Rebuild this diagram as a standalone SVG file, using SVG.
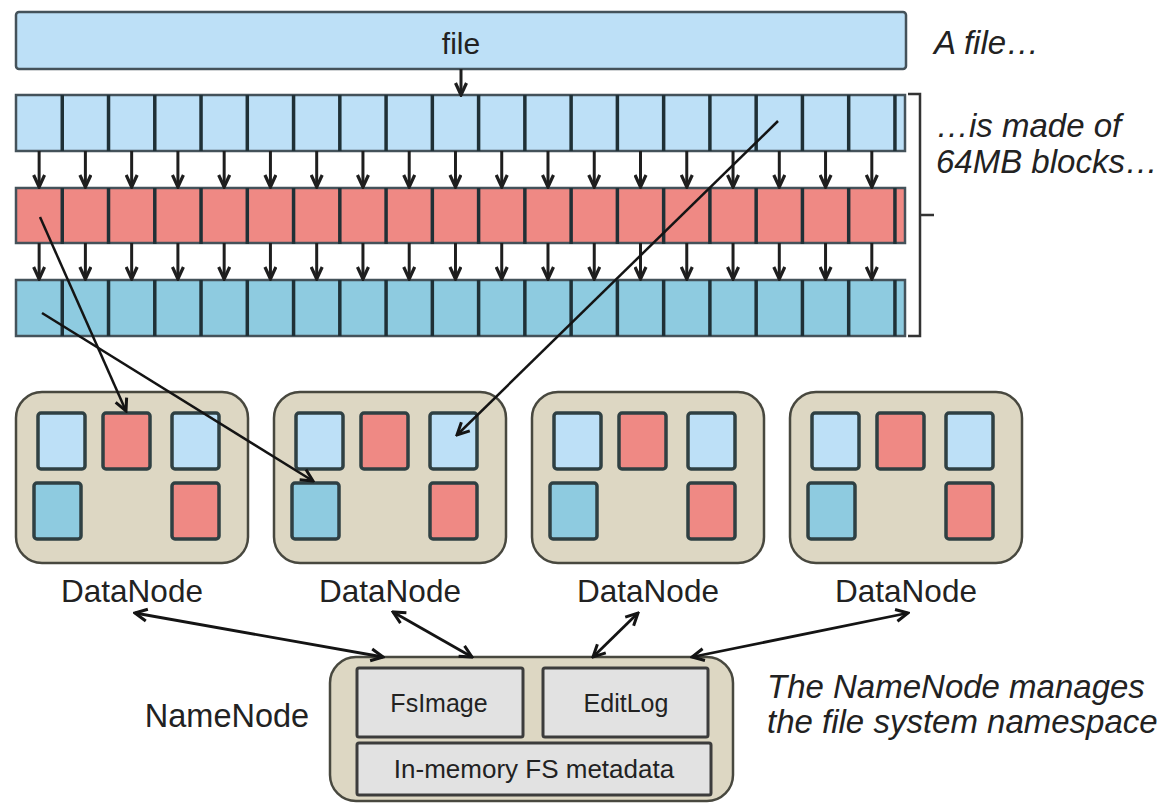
<svg xmlns="http://www.w3.org/2000/svg" xmlns:xlink="http://www.w3.org/1999/xlink" width="1170" height="804" viewBox="0 0 1170 804">
<style>
.lbl{font-family:"Liberation Sans",Arial,sans-serif;fill:#222;}
.it{font-family:"Liberation Sans",Arial,sans-serif;font-style:italic;fill:#222;font-size:33px;}
.blue{fill:#bde0f7;}
.red{fill:#ef8984;}
.teal{fill:#8ecbe0;}
.row{stroke:#44525a;stroke-width:2.5;}
.div{stroke:#1f3036;stroke-width:3.5;}
.dn{fill:#ddd7c3;stroke:#48483f;stroke-width:2.5;}
.blk{stroke:#2f4043;stroke-width:3.5;}
.gray{fill:#e2e2e2;stroke:#3c3c3c;stroke-width:3;}
.sa{stroke:#1e1e1e;stroke-width:3;fill:none;marker-end:url(#ah);}
.la{stroke:#141414;stroke-width:2.5;fill:none;marker-end:url(#al);}
.ba{stroke:#141414;stroke-width:2.8;fill:none;marker-end:url(#al);marker-start:url(#al);}
</style>
<defs>
<marker id="ah" viewBox="0 0 16 14" refX="14" refY="7" markerWidth="16" markerHeight="14" markerUnits="userSpaceOnUse" orient="auto">
<path d="M2,1.5 L14,7 L2,12.5" fill="none" stroke="#1e1e1e" stroke-width="3.2"/>
</marker>
<marker id="al" viewBox="0 0 16 16" refX="14" refY="8" markerWidth="16" markerHeight="16" markerUnits="userSpaceOnUse" orient="auto-start-reverse">
<path d="M2,2 L14,8 L2,14" fill="none" stroke="#141414" stroke-width="3"/>
</marker>
<g id="divs">
<line class="div" x1="62.26" y1="0" x2="62.26" y2="56"/>
<line class="div" x1="108.52" y1="0" x2="108.52" y2="56"/>
<line class="div" x1="154.78" y1="0" x2="154.78" y2="56"/>
<line class="div" x1="201.04" y1="0" x2="201.04" y2="56"/>
<line class="div" x1="247.3" y1="0" x2="247.3" y2="56"/>
<line class="div" x1="293.56" y1="0" x2="293.56" y2="56"/>
<line class="div" x1="339.82" y1="0" x2="339.82" y2="56"/>
<line class="div" x1="386.08" y1="0" x2="386.08" y2="56"/>
<line class="div" x1="432.34" y1="0" x2="432.34" y2="56"/>
<line class="div" x1="478.6" y1="0" x2="478.6" y2="56"/>
<line class="div" x1="524.86" y1="0" x2="524.86" y2="56"/>
<line class="div" x1="571.12" y1="0" x2="571.12" y2="56"/>
<line class="div" x1="617.38" y1="0" x2="617.38" y2="56"/>
<line class="div" x1="663.64" y1="0" x2="663.64" y2="56"/>
<line class="div" x1="709.9" y1="0" x2="709.9" y2="56"/>
<line class="div" x1="756.16" y1="0" x2="756.16" y2="56"/>
<line class="div" x1="802.42" y1="0" x2="802.42" y2="56"/>
<line class="div" x1="848.68" y1="0" x2="848.68" y2="56"/>
<line class="div" x1="894.94" y1="0" x2="894.94" y2="56"/>
</g>
<g id="arrs">
<line class="sa" x1="39.13" y1="0" x2="39.13" y2="36"/>
<line class="sa" x1="85.39" y1="0" x2="85.39" y2="36"/>
<line class="sa" x1="131.65" y1="0" x2="131.65" y2="36"/>
<line class="sa" x1="177.91" y1="0" x2="177.91" y2="36"/>
<line class="sa" x1="224.17" y1="0" x2="224.17" y2="36"/>
<line class="sa" x1="270.43" y1="0" x2="270.43" y2="36"/>
<line class="sa" x1="316.69" y1="0" x2="316.69" y2="36"/>
<line class="sa" x1="362.95" y1="0" x2="362.95" y2="36"/>
<line class="sa" x1="409.21" y1="0" x2="409.21" y2="36"/>
<line class="sa" x1="455.47" y1="0" x2="455.47" y2="36"/>
<line class="sa" x1="501.73" y1="0" x2="501.73" y2="36"/>
<line class="sa" x1="547.99" y1="0" x2="547.99" y2="36"/>
<line class="sa" x1="594.25" y1="0" x2="594.25" y2="36"/>
<line class="sa" x1="640.51" y1="0" x2="640.51" y2="36"/>
<line class="sa" x1="686.77" y1="0" x2="686.77" y2="36"/>
<line class="sa" x1="733.03" y1="0" x2="733.03" y2="36"/>
<line class="sa" x1="779.29" y1="0" x2="779.29" y2="36"/>
<line class="sa" x1="825.55" y1="0" x2="825.55" y2="36"/>
<line class="sa" x1="871.81" y1="0" x2="871.81" y2="36"/>
</g>
<g id="blocks">
<rect class="blk blue" x="22" y="21" width="47" height="56" rx="3"/>
<rect class="blk red" x="87" y="21" width="47" height="56" rx="3"/>
<rect class="blk blue" x="156" y="21" width="47" height="56" rx="3"/>
<rect class="blk teal" x="18" y="91" width="47" height="56" rx="3"/>
<rect class="blk red" x="156" y="91" width="47" height="56" rx="3"/>
</g>
</defs>
<rect width="1170" height="804" fill="#fff"/>

<g id="file">
<rect x="16" y="12" width="890" height="57" rx="3" class="blue" stroke="#44525a" stroke-width="2.5"/>
<text class="lbl" x="461" y="54" font-size="30" text-anchor="middle">file</text>
</g>
<text class="it" x="934" y="54">A file…</text>

<g id="row-blocks">
<rect class="row blue" x="16" y="95" width="889" height="56"/>
<use xlink:href="#divs" href="#divs" y="95"/>
<rect class="row red" x="16" y="188" width="889" height="55"/>
<use xlink:href="#divs" href="#divs" y="188"/>
<rect class="row teal" x="16" y="280" width="889" height="56"/>
<use xlink:href="#divs" href="#divs" y="280"/>
</g>
<path d="M908,94 H920 V336 H908 M920,215 H934" fill="none" stroke="#333" stroke-width="2.5"/>
<text class="it" x="936" y="137">…is made of</text>
<text class="it" x="936" y="173">64MB blocks…</text>

<g id="dn1" transform="translate(16,392)">
<rect class="dn" x="0" y="0" width="232" height="171" rx="26"/>
<use xlink:href="#blocks" href="#blocks"/>
<text class="lbl" x="116" y="210" font-size="31.5" text-anchor="middle">DataNode</text>
</g>
<g id="dn2" transform="translate(274,392)">
<rect class="dn" x="0" y="0" width="232" height="171" rx="26"/>
<use xlink:href="#blocks" href="#blocks"/>
<text class="lbl" x="116" y="210" font-size="31.5" text-anchor="middle">DataNode</text>
</g>
<g id="dn3" transform="translate(532,392)">
<rect class="dn" x="0" y="0" width="232" height="171" rx="26"/>
<use xlink:href="#blocks" href="#blocks"/>
<text class="lbl" x="116" y="210" font-size="31.5" text-anchor="middle">DataNode</text>
</g>
<g id="dn4" transform="translate(790,392)">
<rect class="dn" x="0" y="0" width="232" height="171" rx="26"/>
<use xlink:href="#blocks" href="#blocks"/>
<text class="lbl" x="116" y="210" font-size="31.5" text-anchor="middle">DataNode</text>
</g>

<g id="namenode">
<rect class="dn" x="330" y="657" width="403" height="144" rx="26"/>
<rect class="gray" x="357" y="668" width="166" height="69" rx="2"/>
<rect class="gray" x="543" y="668" width="165" height="69" rx="2"/>
<rect class="gray" x="357" y="743" width="354" height="52" rx="2"/>
<text class="lbl" x="439" y="712" font-size="25" text-anchor="middle">FsImage</text>
<text class="lbl" x="626" y="712" font-size="25" text-anchor="middle">EditLog</text>
<text class="lbl" x="534" y="778" font-size="26" text-anchor="middle">In-memory FS metadata</text>
</g>
<text class="lbl" x="227" y="727" font-size="32.5" text-anchor="middle">NameNode</text>
<text class="it" x="767" y="698">The NameNode manages</text>
<text class="it" x="767" y="733">the file system namespace</text>

<g id="connectors">
<line class="sa" x1="461" y1="69" x2="461" y2="95"/>
<use xlink:href="#arrs" href="#arrs" y="151"/>
<use xlink:href="#arrs" href="#arrs" y="243"/>
<line class="la" x1="40" y1="217" x2="126" y2="411"/>
<line class="la" x1="42" y1="313" x2="313" y2="481"/>
<line class="la" x1="778" y1="121" x2="457" y2="435"/>
<line class="ba" x1="135" y1="613" x2="383" y2="657"/>
<line class="ba" x1="393" y1="612" x2="472" y2="657"/>
<line class="ba" x1="638" y1="613" x2="593" y2="657"/>
<line class="ba" x1="908" y1="613" x2="692" y2="657"/>
</g>
</svg>
